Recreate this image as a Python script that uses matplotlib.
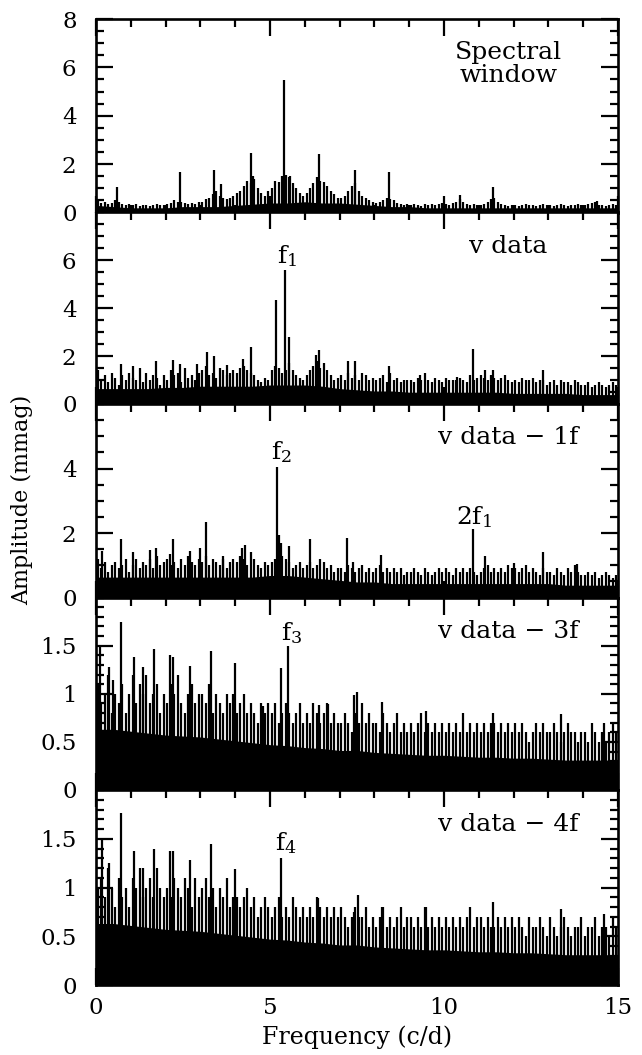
import numpy as np
import matplotlib
matplotlib.use("Agg")
import matplotlib.pyplot as plt
from matplotlib.ticker import MultipleLocator, FuncFormatter

plt.rcParams['font.family'] = ['DejaVu Serif']
plt.rcParams['mathtext.fontset'] = 'dejavuserif'

# ---------------- data ----------------
# noise peak heights on a 0.1 c/d grid (bin centres 0.05 ... 14.95)
sw_noise = [0.5,0.4,0.45,0.35,0.4,0.5,0.45,0.35,0.3,0.35,
            0.3,0.35,0.25,0.3,0.3,0.25,0.3,0.35,0.3,0.3,
            0.35,0.4,0.5,0.45,0.45,0.4,0.35,0.4,0.35,0.45,
            0.45,0.55,0.6,0.75,0.9,0.7,0.6,0.55,0.6,0.7,
            0.8,0.9,1.1,1.3,1.2,1.4,1.0,0.8,0.7,0.9,
            1.0,1.3,1.25,1.5,1.55,1.45,1.2,1.0,0.8,0.7,
            0.8,1.0,1.2,1.45,1.3,1.25,1.1,0.9,0.75,0.6,
            0.6,0.7,0.9,1.1,1.2,0.9,0.7,0.6,0.5,0.45,
            0.4,0.45,0.5,0.6,0.55,0.5,0.4,0.35,0.3,0.35,
            0.3,0.35,0.3,0.25,0.35,0.3,0.35,0.3,0.35,0.4,
            0.35,0.3,0.4,0.45,0.55,0.45,0.35,0.3,0.35,0.3,
            0.3,0.35,0.45,0.55,0.6,0.45,0.35,0.3,0.25,0.3,
            0.3,0.25,0.3,0.35,0.3,0.3,0.25,0.3,0.35,0.3,
            0.3,0.25,0.3,0.35,0.3,0.25,0.3,0.3,0.35,0.3,
            0.3,0.35,0.4,0.45,0.3,0.3,0.25,0.3,0.35,0.3]
v_noise = [1.4,1.0,1.2,0.9,1.3,1.1,0.8,1.2,1.0,1.3,
           1.1,1.0,1.5,0.9,1.3,1.0,1.2,1.1,0.8,1.2,
           1.0,1.4,1.2,1.3,0.9,1.5,1.1,1.2,1.0,1.3,
           1.4,1.6,1.2,1.3,1.1,1.5,1.4,1.2,1.3,1.4,
           1.3,1.5,1.6,1.4,1.3,1.2,1.0,0.9,1.1,1.0,
           1.4,1.6,1.5,1.3,1.4,1.7,1.4,1.2,1.1,1.0,
           1.2,1.4,1.6,1.8,1.5,1.7,1.4,1.2,1.0,1.1,
           1.2,1.0,1.3,1.1,1.2,1.0,1.3,1.2,1.0,1.1,
           1.0,1.1,1.2,0.9,1.3,1.0,1.1,0.9,1.0,1.0,
           1.0,0.9,1.1,1.0,1.3,1.0,0.9,1.1,1.0,0.9,
           1.1,1.0,1.0,1.0,1.1,1.0,0.9,1.2,1.0,1.1,
           1.2,1.1,1.0,1.2,1.1,1.0,1.1,1.2,1.0,0.9,
           1.0,0.9,1.1,1.0,1.0,1.1,0.9,1.0,1.0,0.8,
           0.9,1.0,0.8,1.0,0.9,0.9,0.8,1.0,0.9,0.8,
           0.8,0.9,0.7,0.8,0.9,0.8,0.7,0.8,0.9,0.8]
v1_noise = [1.2,0.9,1.1,0.8,1.0,1.1,0.9,1.0,1.2,0.8,
            1.0,1.2,0.9,1.1,1.0,1.2,0.9,1.3,1.0,1.1,
            1.2,1.0,1.1,0.9,1.2,1.0,1.3,1.1,1.0,1.2,
            1.1,1.3,1.0,1.2,1.1,1.0,1.2,0.9,1.1,1.2,
            1.1,1.3,1.2,1.0,1.4,1.2,1.0,0.9,1.1,1.0,
            1.1,1.2,1.0,1.3,1.2,1.1,0.9,1.0,1.1,0.9,
            1.0,1.1,0.9,1.0,1.2,1.1,0.9,1.0,0.8,0.9,
            0.9,0.8,1.0,0.9,0.8,0.9,1.0,0.8,0.9,0.8,
            0.9,1.0,0.8,0.9,0.8,0.9,0.8,0.9,0.7,0.8,
            0.8,0.9,0.8,0.7,0.9,0.8,0.7,0.8,0.9,0.8,
            0.9,0.8,0.7,0.9,0.8,0.9,0.8,0.9,0.8,0.7,
            0.8,0.9,1.0,0.8,0.9,0.8,0.9,0.8,1.0,0.9,
            0.9,0.8,0.9,1.0,0.8,0.9,0.8,0.7,0.9,0.8,
            0.8,0.7,0.9,0.8,0.7,0.9,0.8,1.0,0.8,0.7,
            0.7,0.8,0.7,0.8,0.6,0.7,0.8,0.7,0.6,0.7]
v3_noise = [1.1,0.9,1.0,1.2,0.8,1.0,0.9,1.1,0.8,1.0,
            1.2,0.9,1.1,1.0,1.2,0.9,1.0,1.1,0.8,1.0,
            0.9,1.1,1.0,1.2,0.9,0.8,1.0,1.1,0.9,1.0,
            1.0,0.9,1.1,0.8,1.0,0.9,0.8,1.0,0.9,1.0,
            0.8,0.9,1.0,0.8,0.9,0.8,0.7,0.9,0.8,0.9,
            0.8,0.9,0.7,0.8,0.9,0.8,0.7,0.8,0.9,0.7,
            0.8,0.7,0.9,0.8,0.7,0.8,0.9,0.7,0.8,0.7,
            0.7,0.8,0.7,0.6,0.8,0.7,0.9,0.7,0.8,0.7,
            0.7,0.6,0.8,0.7,0.6,0.7,0.8,0.6,0.7,0.6,
            0.7,0.6,0.7,0.8,0.6,0.7,0.6,0.7,0.6,0.7,
            0.6,0.7,0.6,0.7,0.6,0.8,0.6,0.7,0.6,0.7,
            0.6,0.7,0.6,0.7,0.7,0.6,0.7,0.6,0.7,0.6,
            0.7,0.6,0.7,0.6,0.5,0.6,0.7,0.6,0.7,0.6,
            0.6,0.7,0.6,0.5,0.6,0.7,0.6,0.6,0.5,0.6,
            0.6,0.5,0.7,0.6,0.5,0.6,0.5,0.6,0.7,0.6]
v4_noise = [1.0,1.1,0.9,1.2,1.0,0.8,1.1,0.9,1.0,0.8,
            1.1,1.0,1.2,0.9,1.0,1.1,0.9,1.2,1.0,0.9,
            1.0,0.9,1.1,1.0,0.9,1.1,1.0,0.8,1.1,0.9,
            1.0,1.1,0.9,1.0,0.8,1.0,0.9,1.1,0.8,0.9,
            0.9,0.8,0.9,1.0,0.8,0.9,0.7,0.8,0.9,0.8,
            0.7,0.8,0.9,0.7,0.8,0.7,0.9,0.8,0.7,0.8,
            0.7,0.8,0.7,0.9,0.8,0.7,0.8,0.7,0.8,0.7,
            0.8,0.7,0.6,0.7,0.8,0.7,0.7,0.8,0.6,0.7,
            0.6,0.7,0.8,0.6,0.7,0.6,0.7,0.8,0.6,0.7,
            0.7,0.6,0.7,0.6,0.8,0.6,0.7,0.6,0.7,0.6,
            0.7,0.6,0.7,0.6,0.7,0.6,0.7,0.8,0.6,0.7,
            0.7,0.6,0.7,0.6,0.6,0.7,0.6,0.7,0.6,0.7,
            0.6,0.7,0.6,0.5,0.7,0.6,0.6,0.7,0.6,0.5,
            0.7,0.6,0.5,0.6,0.7,0.6,0.5,0.6,0.6,0.7,
            0.5,0.6,0.6,0.7,0.5,0.6,0.6,0.5,0.7,0.6]

# prominent peaks (frequency c/d, amplitude mmag)
sw_pk_f = [0.6, 2.41, 3.40, 3.58, 4.44, 4.52, 5.41, 5.57, 6.40, 7.44, 8.43, 10.46, 11.42, 14.39]
sw_pk_a = [1.07, 1.69, 1.76, 1.18, 2.47, 1.5, 5.47, 1.5, 2.4, 1.76, 1.66, 0.73, 1.04, 0.48]
v_pk_f = [0.71, 1.07, 1.72, 2.22, 2.41, 2.91, 3.18, 3.40, 3.75, 4.23, 4.45, 5.17, 5.43, 5.54,
          6.32, 6.40, 7.25, 7.44, 8.43, 9.31, 10.37, 10.84, 11.18, 11.42, 12.85]
v_pk_a = [1.68, 1.58, 1.79, 1.85, 1.68, 1.68, 2.16, 2.02, 1.65, 1.88, 2.38, 4.35, 5.6, 2.8,
          2.06, 2.27, 1.8, 1.79, 1.58, 1.2, 1.14, 2.31, 1.44, 1.44, 1.44]
v1_pk_f = [0.16, 0.71, 1.07, 1.55, 1.72, 2.13, 2.22, 2.7, 2.99, 3.16, 3.66, 4.19, 4.28, 5.19,
           5.27, 5.33, 5.55, 6.15, 7.2, 7.39, 8.19, 10.84, 11.18, 12.0, 12.85, 13.81]
v1_pk_a = [1.43, 1.82, 1.4, 1.48, 1.54, 1.35, 1.8, 1.43, 1.54, 2.34, 1.28, 1.54, 1.64, 4.04,
           1.95, 1.69, 1.59, 1.82, 1.85, 1.09, 1.33, 2.13, 1.28, 1.07, 1.41, 1.03]
v3_pk_f = [0.11, 0.38, 0.5, 0.71, 1.09, 1.36, 1.67, 2.13, 2.2, 2.70, 3.30, 3.99, 4.8, 5.31,
           5.53, 6.42, 6.68, 7.41, 7.49, 8.21, 9.48, 11.41, 13.37, 14.6]
v3_pk_a = [1.5, 1.28, 1.14, 1.75, 1.38, 1.28, 1.46, 1.40, 1.38, 1.29, 1.44, 1.32, 0.87, 1.27,
           1.50, 0.88, 0.89, 0.99, 1.02, 0.91, 0.82, 0.80, 0.79, 0.70]
v4_pk_f = [0.16, 0.38, 0.71, 1.09, 1.36, 1.67, 2.13, 2.22, 2.70, 3.30, 3.99, 5.31, 6.39,
           7.41, 7.54, 8.21, 9.48, 11.4, 13.37, 14.6]
v4_pk_a = [1.51, 1.25, 1.76, 1.37, 1.2, 1.39, 1.37, 1.37, 1.28, 1.45, 1.19, 1.30, 0.89,
           0.75, 0.92, 0.80, 0.80, 0.85, 0.78, 0.73]

# level of the dense noise band, every 0.5 c/d from 0 to 15
sw_band = [0.25,0.2,0.15,0.15,0.15,0.2,0.2,0.2,0.25,0.3,0.35,0.35,0.4,0.35,0.35,0.3,
           0.25,0.2,0.2,0.15,0.15,0.15,0.15,0.15,0.15,0.15,0.15,0.15,0.15,0.15,0.15]
v_band = [0.6,0.6,0.6,0.6,0.65,0.65,0.7,0.7,0.7,0.7,0.75,0.75,0.75,0.7,0.6,0.55,
          0.5,0.5,0.45,0.45,0.45,0.45,0.45,0.45,0.4,0.4,0.4,0.4,0.35,0.35,0.35]
v1_band = [0.6,0.6,0.6,0.6,0.6,0.6,0.6,0.6,0.6,0.6,0.65,0.65,0.6,0.55,0.5,0.45,
           0.45,0.4,0.4,0.4,0.4,0.4,0.4,0.4,0.4,0.4,0.4,0.35,0.35,0.35,0.35]
v3_band = [0.62,0.62,0.6,0.58,0.56,0.55,0.54,0.52,0.5,0.48,0.46,0.45,0.43,0.42,0.4,0.4,
           0.38,0.37,0.36,0.35,0.35,0.34,0.33,0.33,0.32,0.32,0.31,0.3,0.3,0.3,0.3]
v4_band = [0.62,0.62,0.6,0.58,0.56,0.55,0.54,0.52,0.5,0.48,0.46,0.45,0.43,0.42,0.4,0.4,
           0.38,0.37,0.36,0.35,0.35,0.34,0.33,0.33,0.32,0.32,0.31,0.3,0.3,0.3,0.3]

titles = ["Spectral\nwindow", "v data", "v data \u2212 1f", "v data \u2212 3f", "v data \u2212 4f"]
ylims = [8, 8, 6, 2, 2]
peak_labels = [[], [("f$_1$", 5.49, 6.16)], [("f$_2$", 5.32, 4.5), ("2f$_1$", 10.86, 2.5)],
               [("f$_3$", 5.63, 1.63)], [("f$_4$", 5.46, 1.46)]]

noises = [sw_noise, v_noise, v1_noise, v3_noise, v4_noise]
pk_f = [sw_pk_f, v_pk_f, v1_pk_f, v3_pk_f, v4_pk_f]
pk_a = [sw_pk_a, v_pk_a, v1_pk_a, v3_pk_a, v4_pk_a]
bands = [sw_band, v_band, v1_band, v3_band, v4_band]

# ---------------- figure ----------------
W, H = 642, 1055
fig = plt.figure(figsize=(W / 100, H / 100), dpi=100)
left, right = 96 / W, 618 / W
edges = [19, 212.5, 404, 597.5, 790, 985]

grid_f = np.arange(150) * 0.1 + 0.05
band_f = np.arange(31) * 0.5

fs = 17
tfs = 16.5
axes = []
for i in range(5):
    top, bot = edges[i], edges[i + 1]
    ax = fig.add_axes([left, 1 - bot / H, right - left, (bot - top) / H])
    axes.append(ax)
    ax.fill_between(band_f, 0, bands[i], color='black', lw=1.5)
    ax.vlines(grid_f, 0, noises[i], color='black', lw=1.6)
    ax.vlines(pk_f[i], 0, pk_a[i], color='black', lw=1.6)
    ax.set_xlim(0, 15)
    ax.set_ylim(0, ylims[i])
    ax.xaxis.set_major_locator(MultipleLocator(5))
    ax.xaxis.set_minor_locator(MultipleLocator(1))
    if ylims[i] == 2:
        ax.yaxis.set_major_locator(MultipleLocator(0.5))
        ax.yaxis.set_minor_locator(MultipleLocator(0.1))
        yt = [0, 0.5, 1, 1.5]
    else:
        ax.yaxis.set_major_locator(MultipleLocator(2))
        ax.yaxis.set_minor_locator(MultipleLocator(0.5))
        yt = list(range(0, 9 if i == 0 else ylims[i], 2))
    ax.set_yticks(yt)
    ax.yaxis.set_major_formatter(FuncFormatter(lambda v, p: "%g" % v))
    ax.tick_params(which='both', direction='in', top=True, right=True, width=1.6,
                   labelsize=tfs)
    ax.tick_params(axis='y', pad=14)
    ax.tick_params(axis='x', pad=9)
    ax.tick_params(which='major', length=12)
    ax.tick_params(which='minor', length=6)
    if i < 4:
        ax.tick_params(labelbottom=False)
    for s in ax.spines.values():
        s.set_linewidth(1.9)
        s.set_zorder(5)
    if i == 0:
        ax.text(11.85, 0.768, titles[i], transform=ax.get_xaxis_transform(),
                ha='center', va='center', fontsize=fs + 1, linespacing=1.0)
    else:
        ax.text(11.85, 0.825, titles[i], transform=ax.get_xaxis_transform(),
                ha='center', va='center', fontsize=fs + 1)
    for lab, fx, fy in peak_labels[i]:
        ax.text(fx, fy, lab, ha='center', va='center', fontsize=fs + 1)

axes[-1].set_xlabel("Frequency (c/d)", fontsize=fs, labelpad=4)
fig.text(22 / W, 1 - 500 / H, "Amplitude (mmag)", rotation=90, ha='center', va='center',
         fontsize=fs - 1)

fig.savefig("out.png", dpi=100, facecolor='white')
